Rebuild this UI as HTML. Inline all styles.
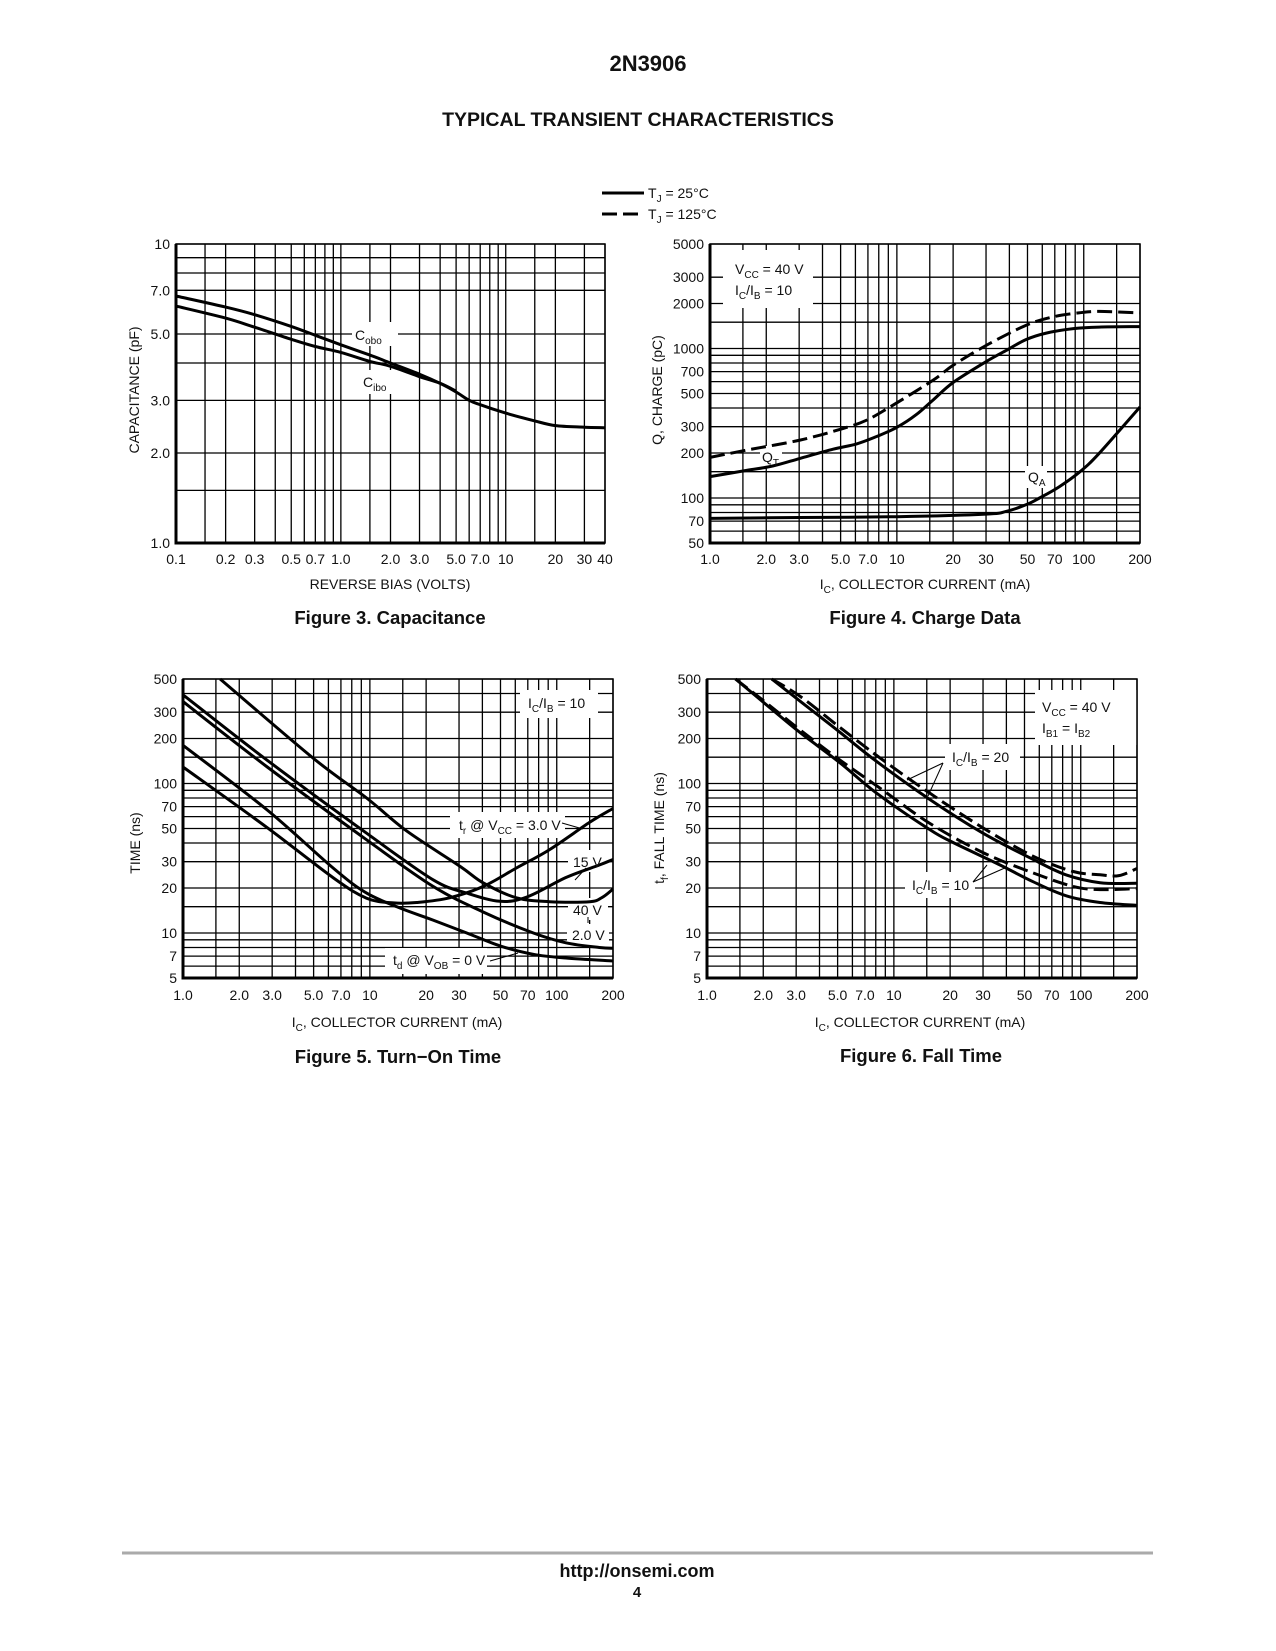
<!DOCTYPE html>
<html><head><meta charset="utf-8"><style>
html,body{margin:0;padding:0;background:#fff}
svg{display:block;font-family:"Liberation Sans",sans-serif}
.t{font-size:14px;fill:#111}
.b{font-weight:bold;fill:#111}
</style></head><body>
<svg id="page" width="1276" height="1651" viewBox="0 0 1276 1651">
<text x="648" y="71" text-anchor="middle" class="b" font-size="22">2N3906</text>
<text x="638" y="126" text-anchor="middle" class="b" font-size="19.5">TYPICAL TRANSIENT CHARACTERISTICS</text>
<g>
<line x1="602" y1="193" x2="644" y2="193" stroke="#000" stroke-width="3"/>
<text x="648" y="198" class="t">T<tspan font-size="10" dy="4">J</tspan><tspan dy="-4"> = 25°C</tspan></text>
<line x1="602" y1="214" x2="644" y2="214" stroke="#000" stroke-width="3" stroke-dasharray="15 6"/>
<text x="648" y="219" class="t">T<tspan font-size="10" dy="4">J</tspan><tspan dy="-4"> = 125°C</tspan></text>
</g>
<text x="390" y="589" text-anchor="middle" class="t" font-size="15">REVERSE BIAS (VOLTS)</text>
<text x="390" y="624" text-anchor="middle" class="b" font-size="18.5">Figure 3. Capacitance</text>
<text x="925" y="589" text-anchor="middle" class="t" font-size="15">I<tspan font-size="10" dy="4">C</tspan><tspan dy="-4">, COLLECTOR CURRENT (mA)</tspan></text>
<text x="925" y="624" text-anchor="middle" class="b" font-size="18.5">Figure 4. Charge Data</text>
<text x="397" y="1027" text-anchor="middle" class="t" font-size="15">I<tspan font-size="10" dy="4">C</tspan><tspan dy="-4">, COLLECTOR CURRENT (mA)</tspan></text>
<text x="398" y="1063" text-anchor="middle" class="b" font-size="18.5">Figure 5. Turn−On Time</text>
<text x="920" y="1027" text-anchor="middle" class="t" font-size="15">I<tspan font-size="10" dy="4">C</tspan><tspan dy="-4">, COLLECTOR CURRENT (mA)</tspan></text>
<text x="921" y="1062" text-anchor="middle" class="b" font-size="18.5">Figure 6. Fall Time</text>
<text transform="translate(139,390) rotate(-90)" text-anchor="middle" class="t" font-size="15">CAPACITANCE (pF)</text>
<text transform="translate(662,390) rotate(-90)" text-anchor="middle" class="t" font-size="15">Q, CHARGE (pC)</text>
<text transform="translate(140,843) rotate(-90)" text-anchor="middle" class="t" font-size="15">TIME (ns)</text>
<text transform="translate(664,828) rotate(-90)" text-anchor="middle" class="t" font-size="15">t<tspan font-size="10" dy="4">f</tspan><tspan dy="-4">, FALL TIME (ns)</tspan></text>
<line x1="122" y1="1553" x2="1153" y2="1553" stroke="#aaa" stroke-width="3"/>
<text x="637" y="1577" text-anchor="middle" class="b" font-size="18">http://onsemi.com</text>
<text x="637" y="1597" text-anchor="middle" class="b" font-size="15">4</text>
</svg>
<script>
// ---- Figure 3 data ----
const capCoboX=[0.1,0.2,0.3,0.5,0.7,1,1.5,2,3,4,5,6,7,10,15,20,30,40];
const capCobo=[6.7,6.15,5.8,5.3,4.95,4.6,4.25,4.0,3.67,3.42,3.2,3.0,2.9,2.72,2.56,2.47,2.44,2.43];
const capCiboX=[0.1,0.2,0.3,0.5,0.7,1,1.5,2,3,4,5];
const capCibo=[6.2,5.65,5.27,4.8,4.54,4.34,4.05,3.9,3.6,3.42,3.22];
const capXTicks=[0.1,0.2,0.3,0.5,0.7,1,2,3,5,7,10,20,30,40];
const capXLabels=["0.1","0.2","0.3","0.5","0.7","1.0","2.0","3.0","5.0","7.0","10","20","30","40"];
const capYTicks=[10,7,5,3,2,1];
const capYLabels=["10","7.0","5.0","3.0","2.0","1.0"];
const capYGrid=[1,1.5,2,3,4,5,7,8,9,10];
// ---- Figure 4 data ----
const qt25X=[1,1.57,2.18,3.03,4.56,6.09,7.8,10,12.7,15.6,20,30,38.6,49,63,88,121,200];
const qt25=[139,153,164,184,212,230,258,297,361,452,592,816,973,1146,1268,1359,1391,1400];
const qt125X=[1,1.57,3.03,5.17,6.86,9.2,15.6,20,30,49,68,94,121,200];
const qt125=[187,209,244,292,331,407,613,772,1047,1428,1624,1730,1770,1730];
const qaX=[1,3,10,30,38.6,49,58,74,95.5,121,200];
const qa=[73,74,75,78,81.5,90,100,119,150,199,406];
const chgXTicks=[1,2,3,5,7,10,20,30,50,70,100,200];
const chgXLabels=["1.0","2.0","3.0","5.0","7.0","10","20","30","50","70","100","200"];
const chgYTicks=[5000,3000,2000,1000,700,500,300,200,100,70,50];
const chgYLabels=["5000","3000","2000","1000","700","500","300","200","100","70","50"];
const chgYGrid=[50,60,70,80,90,100,150,200,300,400,500,600,700,800,900,1000,1500,2000,3000,5000];
// ---- Figure 5 data ----
const tr40X=[1.58,5.0,9.6,15.8,30.4,40.5,60.8,91.6,150,175,200];
const tr40=[500,147,80,48,27.9,21.6,17.2,16.2,16.2,17.3,19.7];
const tr15X=[1,2.8,9.6,21.8,33,49.7,69.2,112,169,200];
const tr15=[392,144,46.5,22.7,18.5,16.3,17.4,23.5,28.5,31];
const td2X=[1,2.8,9.6,21.8,40.5,75,112,169,200];
const td2=[353,130,42,20.5,13.8,10,8.6,8.0,7.9];
const td0X=[1,2.8,6.4,9.6,14.5,21.8,33,49.7,75,112,200];
const td0=[180,67,27,18.5,14.7,12.2,10,8.2,7.2,6.8,6.5];
const tr3X=[1,2.8,6.4,9.6,13.4,17.8,26.7,40.5,60.8,91.6,150,200];
const tr3=[129,51,23.3,17.1,15.9,16,17.2,20.5,27.2,36.1,55,68];
// ---- Figure 6 data ----
const f10X=[1.42,2.18,3.15,5.17,8.1,15.6,21,37,55.7,84,127,200];
const f10=[500,320,219,137,86,49,40,28.5,22,17.7,16,15.3];
const f10dX=[1.42,2.18,3.15,5.17,8.44,15.6,30,55.7,91,127,200];
const f10d=[500,330,228,143,93,54,34.5,25.2,20.5,19.5,19.8];
const f20X=[2.22,3.15,5.17,8.1,15.6,30,55.7,84,127,200];
const f20=[500,355,219,140,78,46.5,31,24.4,21.7,21.5];
const f20dX=[2.22,3.15,5.17,8.44,15.6,30,55.7,91,127,160,200];
const f20d=[500,383,236,148,86,50.5,32.6,25.8,24.5,24.2,27];
const timeXTicks=[1,2,3,5,7,10,20,30,50,70,100,200];
const timeXLabels=["1.0","2.0","3.0","5.0","7.0","10","20","30","50","70","100","200"];
const timeYTicks=[500,300,200,100,70,50,30,20,10,7,5];
const timeYLabels=["500","300","200","100","70","50","30","20","10","7","5"];
const timeYGrid=[5,6,7,8,9,10,15,20,30,40,50,60,70,80,90,100,150,200,300,400,500];

const NS='http://www.w3.org/2000/svg';
const svg=document.getElementById('page');
function el(tag,attrs,parent){const e=document.createElementNS(NS,tag);for(const k in attrs)e.setAttribute(k,attrs[k]);(parent||svg).appendChild(e);return e;}

function makeChart(name,L,T,R,B,xmin,xmax,ymin,ymax){
  const g=el('g',{});
  
  
  const lx0=Math.log10(xmin),lx1=Math.log10(xmax),ly0=Math.log10(ymin),ly1=Math.log10(ymax);
  return {g,L,T,R,B,xmin,xmax,ymin,ymax,
    sx:v=>L+(Math.log10(v)-lx0)/(lx1-lx0)*(R-L),
    sy:v=>B-(Math.log10(v)-ly0)/(ly1-ly0)*(B-T)};
}
function drawGrid(c,yGrid){
  const gg=el('g',{stroke:'#000','stroke-width':1.3},c.g);
  
  
  const mult=[1,1.5,2,3,4,5,6,7,8,9];
  for(let d=Math.floor(Math.log10(c.xmin));d<=Math.ceil(Math.log10(c.xmax));d++){
    for(const m of mult){const v=m*Math.pow(10,d);
      if(v<c.xmin*0.999||v>c.xmax*1.001)continue;
      const x=c.sx(v);
      const ln=el('line',{x1:x,y1:c.T,x2:x,y2:c.B},gg);
      
      }
  }
  for(const v of yGrid){const y=c.sy(v);
    const ln=el('line',{x1:c.L,y1:y,x2:c.R,y2:y},gg);
    
    }
}
function drawFrame(c){
  const r=el('rect',{x:c.L,y:c.T,width:c.R-c.L,height:c.B-c.T,fill:'none',stroke:'#000','stroke-width':1.5},c.g);
  
  
  const a=el('path',{d:`M${c.L},${c.T}V${c.B}H${c.R}`,fill:'none',stroke:'#000','stroke-width':3},c.g);
  
  
}
function drawTicks(c,xt,xl,yt,yl,xBase){
  xt.forEach((v,i)=>{const t=el('text',{x:c.sx(v),y:xBase,'text-anchor':'middle',class:'t'},c.g);t.textContent=xl[i];
    
    });
  yt.forEach((v,i)=>{const t=el('text',{x:c.L-6,y:c.sy(v)+5,'text-anchor':'end',class:'t'},c.g);t.textContent=yl[i];
    
    });
}
function whiteBox(c,x,y,w,h){
  const r=el('rect',{x,y,width:w,height:h,fill:'#fff'},c.g);
  
  
}
function smoothPath(pts){
  let d=`M${pts[0][0].toFixed(1)},${pts[0][1].toFixed(1)}`;
  for(let i=0;i<pts.length-1;i++){
    const p0=pts[Math.max(0,i-1)],p1=pts[i],p2=pts[i+1],p3=pts[Math.min(pts.length-1,i+2)];
    const c1=[p1[0]+(p2[0]-p0[0])/6,p1[1]+(p2[1]-p0[1])/6];
    const c2=[p2[0]-(p3[0]-p1[0])/6,p2[1]-(p3[1]-p1[1])/6];
    d+=`C${c1[0].toFixed(1)},${c1[1].toFixed(1)} ${c2[0].toFixed(1)},${c2[1].toFixed(1)} ${p2[0].toFixed(1)},${p2[1].toFixed(1)}`;
  }
  return d;
}
function curve(c,xs,ys,dashed,name){
  const pts=xs.map((x,i)=>[c.sx(x),c.sy(ys[i])]);
  const p=el('path',{d:smoothPath(pts),fill:'none',stroke:'#000','stroke-width':3,'stroke-linejoin':'round'},c.g);
  if(dashed)p.setAttribute('stroke-dasharray','15 6');
  
  
}
function label(c,x,y,html,name){
  const t=el('text',{x,y,class:'t'},c.g);
  t.innerHTML=html;
  
  
}
function leader(c,x1,y1,x2,y2){
  const l=el('line',{x1,y1,x2,y2,stroke:'#000','stroke-width':1},c.g);
  
  
}
const sub=s=>`<tspan font-size="10" dy="4">${s}</tspan><tspan dy="-4">`;

// Figure 3
const c1=makeChart('capacitance-chart',176,244,605,543,0.1,40,1,10);
drawGrid(c1,capYGrid);
whiteBox(c1,352,322,46,24);whiteBox(c1,360,370,40,24);
drawFrame(c1);
drawTicks(c1,capXTicks,capXLabels,capYTicks,capYLabels,564);
curve(c1,capCoboX,capCobo,false,'cobo-curve');
curve(c1,capCiboX,capCibo,false,'cibo-curve');
label(c1,355,340,'C'+sub('obo')+'</tspan>','cobo-label');
label(c1,363,387,'C'+sub('ibo')+'</tspan>','cibo-label');

// Figure 4
const c2=makeChart('charge-chart',710,244,1140,543,1,200,50,5000);
drawGrid(c2,chgYGrid);
whiteBox(c2,723,250,90,58);whiteBox(c2,760,446,22,20);whiteBox(c2,1025,466,22,22);
drawFrame(c2);
drawTicks(c2,chgXTicks,chgXLabels,chgYTicks,chgYLabels,564);
curve(c2,qt25X,qt25,false,'qt-25c-curve');
curve(c2,qt125X,qt125,true,'qt-125c-curve');
curve(c2,qaX,qa,false,'qa-curve');
label(c2,735,274,'V'+sub('CC')+' = 40 V</tspan>','vcc-label');
label(c2,735,295,'I'+sub('C')+'/I</tspan>'+sub('B')+' = 10</tspan>','ic-ib-label');
label(c2,762,462,'Q'+sub('T')+'</tspan>','qt-label');
label(c2,1028,482,'Q'+sub('A')+'</tspan>','qa-label');

// Figure 5
const c3=makeChart('turn-on-time-chart',183,679,613,978,1,200,5,500);
drawGrid(c3,timeYGrid);
whiteBox(c3,520,690,78,28);whiteBox(c3,450,812,115,26);whiteBox(c3,568,850,40,22);
whiteBox(c3,568,898,40,22);whiteBox(c3,567,924,42,22);whiteBox(c3,385,948,102,26);
drawFrame(c3);
drawTicks(c3,timeXTicks,timeXLabels,timeYTicks,timeYLabels,1000);
curve(c3,tr40X,tr40,false,'tr-40v-curve');
curve(c3,tr15X,tr15,false,'tr-15v-curve');
curve(c3,td2X,td2,false,'td-2v-curve');
curve(c3,td0X,td0,false,'td-0v-curve');
curve(c3,tr3X,tr3,false,'tr-3v-curve');
label(c3,528,708,'I'+sub('C')+'/I</tspan>'+sub('B')+' = 10</tspan>','ic-ib-label');
label(c3,459,830,'t'+sub('r')+' @ V</tspan>'+sub('CC')+' = 3.0 V</tspan>','tr-3v-label');
label(c3,573,867,'15 V','tr-15v-label');
label(c3,573,915,'40 V','tr-40v-label');
label(c3,572,940,'2.0 V','td-2v-label');
label(c3,393,965,'t'+sub('d')+' @ V</tspan>'+sub('OB')+' = 0 V</tspan>','td-0v-label');
leader(c3,562,823,583,829);leader(c3,586,868,575,880);leader(c3,588,917,588,923);leader(c3,490,961,518,953);

// Figure 6
const c4=makeChart('fall-time-chart',707,679,1137,978,1,200,5,500);
drawGrid(c4,timeYGrid);
whiteBox(c4,1035,690,102,55);whiteBox(c4,945,744,75,26);whiteBox(c4,905,872,70,26);
drawFrame(c4);
drawTicks(c4,timeXTicks,timeXLabels,timeYTicks,timeYLabels,1000);
curve(c4,f10X,f10,false,'fall-ic-ib-10-25c');
curve(c4,f10dX,f10d,true,'fall-ic-ib-10-125c');
curve(c4,f20X,f20,false,'fall-ic-ib-20-25c');
curve(c4,f20dX,f20d,true,'fall-ic-ib-20-125c');
label(c4,1042,712,'V'+sub('CC')+' = 40 V</tspan>','vcc-label');
label(c4,1042,733,'I'+sub('B1')+' = I</tspan>'+sub('B2')+'</tspan>','ib-label');
label(c4,952,762,'I'+sub('C')+'/I</tspan>'+sub('B')+' = 20</tspan>','ic-ib-20-label');
label(c4,912,890,'I'+sub('C')+'/I</tspan>'+sub('B')+' = 10</tspan>','ic-ib-10-label');
leader(c4,943,763,907,780);leader(c4,943,763,928,796);
leader(c4,973,882,987,865);leader(c4,973,882,1007,867);
</script>
</body></html>
